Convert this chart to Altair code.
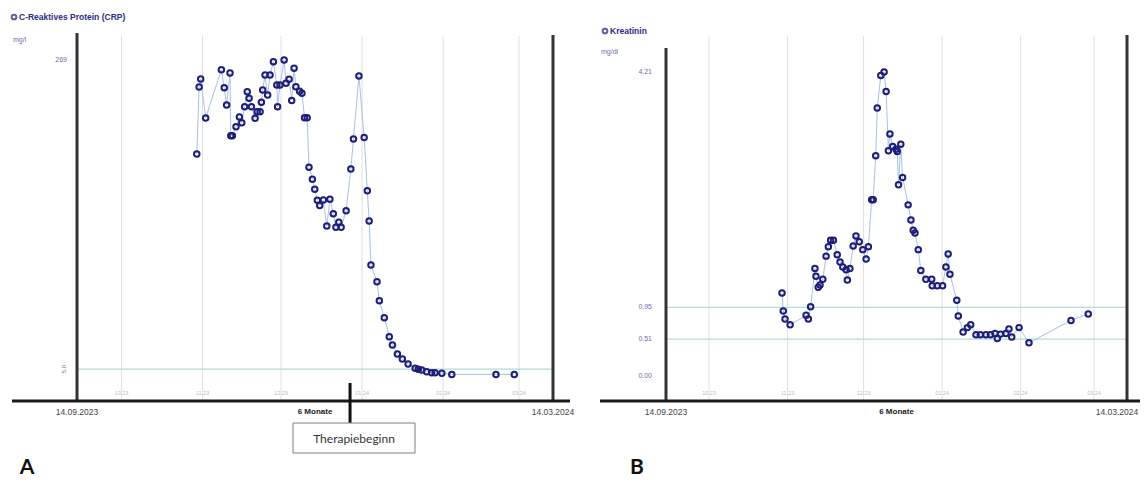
import altair as alt
import pandas as pd

# ---------------- data ----------------
# days after 14.09.2023
crp_day = [45.8, 46.7, 47.3, 49.2, 55.2, 56.3, 57.2, 58.5, 58.8, 59.4,
           60.8, 62.1, 63.0, 64.1, 65.1, 65.8, 66.7, 68.1, 68.9, 70.0,
           70.5, 71.0, 71.9, 72.9, 73.8, 75.1, 76.4, 76.7, 77.6, 79.2,
           79.9, 81.1, 82.1, 83.0, 83.7, 85.1, 86.0, 87.0, 88.0, 88.7,
           90.0, 90.9, 91.9, 92.8, 94.2, 95.5, 96.7, 98.0, 99.0, 100.1,
           101.0, 102.9, 104.7, 105.7, 107.8, 109.8, 111.0, 111.7, 112.4, 114.7,
           115.6, 117.5, 119.4, 120.6, 122.5, 124.4, 126.6, 129.3, 130.5, 131.8,
           133.7, 135.6, 136.9, 139.5, 143.3, 160.2, 167.2]
crp_val = [188.7, 245.9, 252.8, 219.5, 260.7, 245.3, 230.6, 257.9, 204.4, 204.4,
           212.0, 220.3, 215.5, 229.1, 241.9, 236.3, 229.1, 219.2, 224.9, 224.9,
           232.9, 243.4, 256.2, 239.1, 256.2, 267.5, 247.6, 229.1, 247.6, 269.0,
           249.1, 252.5, 234.4, 261.9, 246.2, 242.4, 240.6, 219.7, 219.7, 177.4,
           167.2, 158.6, 149.2, 144.7, 149.4, 127.2, 150.0, 137.7, 126.1, 130.4,
           126.1, 140.2, 175.9, 201.5, 255.3, 202.8, 157.4, 131.5, 93.9, 79.7,
           63.4, 48.9, 32.7, 25.6, 17.9, 13.7, 9.4, 5.7, 4.9, 4.3,
           2.8, 2.0, 2.0, 1.5, 0.5, 0.5, 0.5]

krea_day = [45.8, 46.3, 47.0, 49.0, 55.3, 56.2, 57.1, 58.8, 59.2, 60.1,
            60.8, 61.9, 63.2, 64.1, 65.0, 66.1, 67.6, 68.7, 69.8, 71.1,
            71.6, 72.6, 73.9, 75.0, 76.3, 77.7, 79.0, 79.9, 81.2, 81.8,
            82.8, 83.4, 84.8, 86.1, 86.9, 87.8, 88.4, 89.5, 90.8, 91.3,
            91.8, 92.7, 93.4, 95.6, 96.7, 97.6, 98.3, 99.6, 100.6, 102.6,
            104.9, 105.1, 107.1, 109.2, 110.5, 111.4, 112.1, 114.8, 115.4, 117.3,
            119.0, 120.3, 122.4, 124.1, 126.3, 128.1, 129.9, 130.8, 132.1, 134.2,
            135.4, 136.5, 139.4, 143.3, 159.9, 166.7]
krea_val = [1.15, 0.90, 0.79, 0.71, 0.84, 0.79, 0.96, 1.49, 1.38, 1.23,
            1.26, 1.34, 1.66, 1.79, 1.88, 1.88, 1.68, 1.58, 1.51, 1.47,
            1.33, 1.49, 1.80, 1.94, 1.86, 1.75, 1.62, 1.79, 2.44, 2.44,
            3.05, 3.71, 4.16, 4.21, 3.94, 3.12, 3.35, 3.18, 3.14, 3.11,
            2.65, 3.21, 2.75, 2.37, 2.16, 2.02, 1.98, 1.75, 1.46, 1.34,
            1.34, 1.25, 1.25, 1.25, 1.51, 1.69, 1.41, 1.05, 0.83, 0.61,
            0.67, 0.71, 0.57, 0.57, 0.57, 0.57, 0.59, 0.52, 0.58, 0.59,
            0.65, 0.54, 0.67, 0.46, 0.77, 0.86]

grid_days = [17, 48, 78, 109, 140, 169]
grid_labels = ["10.23", "11.23", "12.23", "01.24", "02.24", "03.24"]

crp_ref = [5.0]
crp_ref_labels = ["5.0"]
crp_ticks = [269]
crp_tick_labels = ["269"]

krea_ref = [0.51, 0.95]
krea_ticks = [0.00, 0.51, 0.95, 4.21]
krea_tick_labels = ["0.00", "0.51", "0.95", "4.21"]

span_days = [0, 182]
span_labels = ["14.09.2023", "14.03.2024"]
mid_day = [91]
mid_label = ["6 Monate"]
therapy_day = [104.4]

# ---------------- layout helpers ----------------
OFF = 8
W, H = 1148 - 2 * OFF, 485 - 2 * OFF


def p(v):
    return v - OFF


NAVY = "#1e1e78"
LINE = "#aac0e8"
GRID = "#e0e0e0"
REF = "#b2dcd6"
LBL = "#6d6db0"
FONT = "Liberation Sans"

A_x = alt.Scale(domain=[0, 182], range=[p(77), p(553)], nice=False, zero=False)
A_y = alt.Scale(domain=[0, 269], range=[p(375), p(60)], nice=False, zero=False)
B_x = alt.Scale(domain=[0, 182], range=[p(666), p(1127)], nice=False, zero=False)
B_y = alt.Scale(domain=[0, 4.21], range=[p(376), p(72)], nice=False, zero=False)


def one(t):
    return alt.Chart(pd.DataFrame({"t": [t]}))


def panel(xs, ys, days, vals, refs, ref_labels, ticks, tick_labels,
          left, right, top_l, top_r, axis_l, axis_r, title, unit, title_x, tick_x,
          ref_rot, right_label_shift):
    layers = []
    gdf = pd.DataFrame({"d": grid_days, "t": grid_labels})
    layers.append(alt.Chart(gdf).mark_rule(color=GRID, strokeWidth=1).encode(
        x=alt.X("d:Q", scale=xs, axis=None),
        y=alt.value(p(36)), y2=alt.value(p(401))))
    layers.append(alt.Chart(gdf).mark_text(fontSize=5.5, color="#bdbdbd", font=FONT).encode(
        x=alt.X("d:Q", scale=xs, axis=None),
        y=alt.value(p(393)), text="t:N"))
    rdf = pd.DataFrame({"v": refs, "t": ref_labels if ref_labels else [""] * len(refs)})
    layers.append(alt.Chart(rdf).mark_rule(color=REF, strokeWidth=1.4).encode(
        y=alt.Y("v:Q", scale=ys, axis=None),
        x=alt.value(p(left)), x2=alt.value(p(right))))
    if ref_rot:
        layers.append(alt.Chart(rdf).mark_text(angle=270, fontSize=6, color=LBL, font=FONT).encode(
            y=alt.Y("v:Q", scale=ys, axis=None),
            x=alt.value(p(left - 13)), text="t:N"))
    tdf = pd.DataFrame({"v": ticks, "t": tick_labels})
    layers.append(alt.Chart(tdf).mark_text(align="right", fontSize=7, color=LBL, font=FONT).encode(
        y=alt.Y("v:Q", scale=ys, axis=None),
        x=alt.value(p(tick_x)), text="t:N"))
    ddf = pd.DataFrame({"d": days, "v": vals})
    layers.append(alt.Chart(ddf).mark_line(color=LINE, strokeWidth=1).encode(
        x=alt.X("d:Q", scale=xs, axis=None),
        y=alt.Y("v:Q", scale=ys, axis=None)))
    layers.append(alt.Chart(ddf).mark_point(shape="circle", size=30, strokeWidth=2,
                                            color=NAVY, opacity=1, filled=False).encode(
        x=alt.X("d:Q", scale=xs, axis=None),
        y=alt.Y("v:Q", scale=ys, axis=None)))
    # frame
    layers.append(alt.Chart(pd.DataFrame({"d": [0]})).mark_rule(color="#333333", strokeWidth=3).encode(
        x=alt.X("d:Q", scale=xs, axis=None), y=alt.value(p(top_l)), y2=alt.value(p(401))))
    layers.append(alt.Chart(pd.DataFrame({"d": [182]})).mark_rule(color="#333333", strokeWidth=3).encode(
        x=alt.X("d:Q", scale=xs, axis=None), y=alt.value(p(top_r)), y2=alt.value(p(401))))
    layers.append(one("").mark_rule(color="#1a1a1a", strokeWidth=3).encode(
        x=alt.value(p(axis_l)), x2=alt.value(p(axis_r)), y=alt.value(p(401))))
    sdf = pd.DataFrame({"d": span_days[:1], "t": span_labels[:1]})
    layers.append(alt.Chart(sdf).mark_text(fontSize=8.5, color="#444444", font=FONT).encode(
        x=alt.X("d:Q", scale=xs, axis=None), y=alt.value(p(412)), text="t:N"))
    sdf2 = pd.DataFrame({"d": span_days[1:], "t": span_labels[1:]})
    layers.append(alt.Chart(sdf2).mark_text(fontSize=8.5, color="#444444", font=FONT,
                                            dx=-right_label_shift).encode(
        x=alt.X("d:Q", scale=xs, axis=None), y=alt.value(p(412)), text="t:N"))
    mdf = pd.DataFrame({"d": mid_day, "t": mid_label})
    layers.append(alt.Chart(mdf).mark_text(fontSize=8, fontWeight="bold", color="#222222", font=FONT).encode(
        x=alt.X("d:Q", scale=xs, axis=None), y=alt.value(p(412)), text="t:N"))
    # title + unit
    layers.append(one("").mark_point(shape="circle", size=22, strokeWidth=2, color=NAVY, filled=False).encode(
        x=alt.value(p(title_x)), y=alt.value(p(title[1]))))
    layers.append(one(title[0]).mark_text(align="left", fontSize=8.5, fontWeight="bold",
                                           color="#2b2b85", font=FONT).encode(
        x=alt.value(p(title_x + 5)), y=alt.value(p(title[1])), text="t:N"))
    layers.append(one(unit[0]).mark_text(align="left", fontSize=7, color=LBL, font=FONT).encode(
        x=alt.value(p(unit[1])), y=alt.value(p(unit[2])), text="t:N"))
    return layers


layers_A = panel(A_x, A_y, crp_day, crp_val, crp_ref, crp_ref_labels, crp_ticks, crp_tick_labels,
                 77, 553, 33, 35, 12, 570, ("C-Reaktives Protein (CRP)", 17), ("mg/l", 13, 40),
                 14, 67, True, 0)
layers_B = panel(B_x, B_y, krea_day, krea_val, krea_ref, None, krea_ticks, krea_tick_labels,
                 666, 1127, 48, 35, 600, 1148, ("Kreatinin", 31), ("mg/dl", 601, 52),
                 605, 652, False, 10)

# Therapiebeginn marker
tdf = pd.DataFrame({"d": therapy_day})
marker = alt.Chart(tdf).mark_rule(color="#111111", strokeWidth=3).encode(
    x=alt.X("d:Q", scale=A_x, axis=None), y=alt.value(p(383)), y2=alt.value(p(423)))
box = one("").mark_rect(fill="white", stroke="#7f7f7f", strokeWidth=1).encode(
    x=alt.value(p(293)), x2=alt.value(p(415)), y=alt.value(p(423)), y2=alt.value(p(453)))
box_text = one("Therapiebeginn").mark_text(fontSize=12, color="#333333", font="Lato").encode(
    x=alt.value(p(354)), y=alt.value(p(439)), text="t:N")
lab_A = one("A").mark_text(fontSize=21, fontWeight="bold", color="#111111", font="Lato",
                           baseline="alphabetic").encode(
    x=alt.value(p(27)), y=alt.value(p(474)), text="t:N")
lab_B = one("B").mark_text(fontSize=21, fontWeight="bold", color="#111111", font="Lato",
                           baseline="alphabetic").encode(
    x=alt.value(p(637)), y=alt.value(p(474)), text="t:N")

chart = alt.layer(*layers_A, *layers_B, marker, box, box_text, lab_A, lab_B).resolve_scale(
    x="independent", y="independent"
).properties(
    width=W, height=H, padding=0, autosize=alt.AutoSizeParams(type="none")
).configure_view(stroke=None)

chart.save("out.html", embed_options={"renderer": "svg", "actions": False})
